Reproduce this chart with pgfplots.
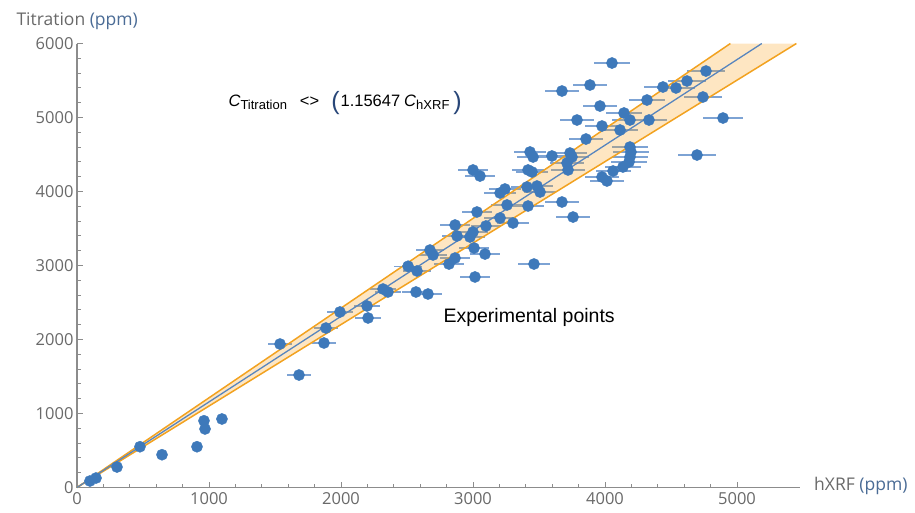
\documentclass[border=0pt]{standalone}
\usepackage{pgfplots}
\pgfplotsset{compat=1.18}
\usepackage{pgfplotstable}
\usepackage{fontspec}
\setmainfont{Open Sans}
\newfontfamily\arialf{Liberation Sans}
\definecolor{ptblue}{RGB}{62,121,186}
\definecolor{errblue}{RGB}{125,163,212}
\definecolor{bandorange}{RGB}{250,160,20}
\definecolor{edgeorange}{RGB}{242,162,32}
\definecolor{fitblue}{RGB}{88,133,190}
\definecolor{axgray}{RGB}{140,140,140}
\definecolor{tickgray}{RGB}{105,105,105}
\definecolor{ppmblue}{RGB}{75,108,150}
\definecolor{parenblue}{RGB}{40,70,120}

\pgfplotstableread{
x y e
98 88 30
144 128 30
303 277 30
477 551 30
644 443 30
909 551 30
962 902 30
970 791 30
1098 926 30
1538 1939 88
1682 1520 90
1871 1953 94
1886 2155 94
1992 2372 96
2197 2453 100
2205 2291 100
2318 2682 102
2356 2642 102
2568 2642 106
2659 2615 108
2508 2990 105
2576 2926 106
2674 3209 108
2697 3142 109
2818 3020 111
2864 3101 112
3015 2845 114
2864 3547 112
2879 3399 112
2977 3385 114
3000 3453 114
3008 3236 114
3091 3155 116
3098 3534 116
3205 3642 118
3303 3574 119
3462 3020 122
3417 3804 122
3258 3818 119
3030 3723 115
3674 3858 126
3758 3655 128
3205 3980 118
3242 4034 118
3409 4061 121
3485 4074 123
3508 3993 123
3000 4291 114
3053 4209 115
3417 4291 122
3447 4264 122
3432 4534 122
3455 4466 122
3598 4480 125
3735 4520 127
3750 4466 128
3712 4385 127
3720 4291 127
3977 4196 132
4015 4142 132
4061 4277 133
4136 4331 134
4189 4601 135
4197 4534 136
4189 4466 135
4182 4399 135
3856 4709 129
3788 4966 128
3977 4885 132
4114 4831 134
4189 4966 135
4144 5061 135
3962 5155 131
4318 5236 138
4333 4966 138
4439 5412 140
4538 5399 142
4621 5493 143
4765 5628 146
4742 5277 145
4894 4993 148
4697 4493 145
3674 5358 126
3886 5439 130
4053 5736 133
}\points

\begin{document}
\begin{tikzpicture}
\begin{axis}[
  anchor=origin, at={(0,0)},
  scale only axis,
  width=722.7pt, height=444pt,
  xmin=0, xmax=5475, ymin=0, ymax=6000,
  axis lines*=left,
  axis line style={axgray, line width=1.3pt},
  clip=false,
  xtick={0,1000,...,5000},
  ytick={0,1000,...,6000},
  minor x tick num=4,
  minor y tick num=4,
  tick align=inside,
  major tick length=6pt,
  minor tick length=4pt,
  every tick/.style={axgray, line width=1pt},
  /pgf/number format/1000 sep={},
  /pgf/number format/assume math mode=true,
  ticklabel style={font=\fontsize{16.5}{16.5}\selectfont, text=tickgray},
  xticklabel style={yshift=-1pt},
]
\addplot[ptblue, only marks, mark=*, mark size=5.6pt,
  mark options={draw=none, fill=ptblue},
  error bars/.cd, x dir=both, x explicit, error mark=none,
  error bar style={errblue, line width=1.2pt}]
  table[x=x, y=y, x error=e] {\points};

\addplot[draw=none, fill=bandorange, fill opacity=0.26]
  coordinates {(0,0) (4950,6000) (5450,6000)} -- cycle;
\addplot[edgeorange, line width=1.5pt] coordinates {(0,0) (4950,6000)};
\addplot[edgeorange, line width=1.5pt] coordinates {(0,0) (5450,6000)};
\addplot[fitblue, line width=1.3pt] coordinates {(0,0) (5188,6000)};

\node[anchor=base west, xshift=-64pt, yshift=18pt, font=\fontsize{17.5}{17.5}\selectfont]
  at (rel axis cs:0,1) {\textcolor{tickgray}{Titration} \textcolor{ppmblue}{(ppm)}};
\node[anchor=west, xshift=11pt, yshift=2pt, font=\fontsize{17.5}{17.5}\selectfont]
  at (rel axis cs:1,0) {\textcolor{tickgray}{hXRF} \textcolor{ppmblue}{(ppm)}};

\node[anchor=base west, font=\arialf\fontsize{16.5}{16.5}\selectfont]
  at (axis cs:1121,5155) {\textit{C}\raisebox{-3.5pt}{\fontsize{13}{13}\selectfont Titration}\hspace{13pt}<>\hspace{12pt}\raisebox{-3pt}{\textcolor{parenblue}{\fontsize{25}{25}\selectfont (}}\hspace{1pt}1.15647\hspace{4pt}\textit{C}\raisebox{-3.5pt}{\fontsize{13}{13}\selectfont hXRF}\hspace{4pt}\raisebox{-3pt}{\textcolor{parenblue}{\fontsize{25}{25}\selectfont )}}};

\node[anchor=west, font=\arialf\fontsize{19.5}{19.5}\selectfont]
  at (axis cs:2750,2304) {Experimental points};
\end{axis}
\path[use as bounding box] (-77pt,-24.5pt) rectangle (838pt,487.5pt);
\end{tikzpicture}
\end{document}
